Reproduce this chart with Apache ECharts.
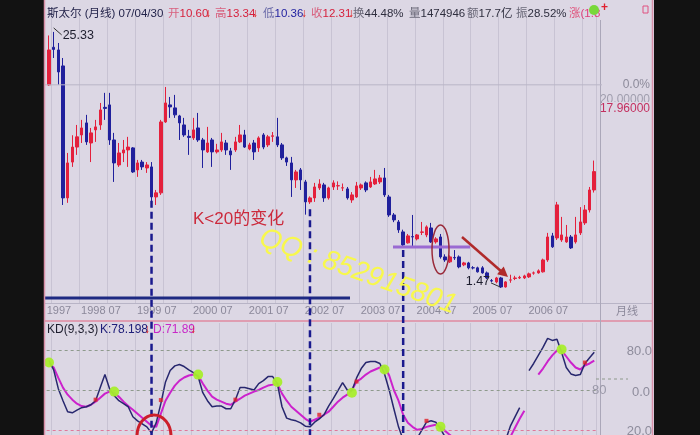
<!DOCTYPE html>
<html><head><meta charset="utf-8">
<script src="https://cdn.jsdelivr.net/npm/echarts/dist/echarts.min.js"></script>
<style>html,body{margin:0;padding:0;background:#121212;}#c{width:700px;height:435px;}</style>
</head><body><div id="c"></div>
<script>
// ---- data (monthly candles 1997-07 .. 2007-04) ----
const startYear = 1997, startMonth = 7, monthCount = 118;
const months = [];
for (let i = 0; i < monthCount; i++) {
  const t = startMonth - 1 + i;
  months.push((startYear + Math.floor(t / 12)) + '-' + String(t % 12 + 1).padStart(2, '0'));
}
const opens = [20.39,23.9,23.65,22.16,9.86,13.2,14.6,15.73,16.85,14.98,
16.2,16.66,18.3,18.53,15.26,12.93,14.05,14.33,14.52,12.47,
13.2,12.65,12.75,9.95,10.33,16.94,18.53,18.25,17.5,16.66,
15.6,15.45,16.38,15.26,14.15,15.26,14.15,14.33,14.98,14.24,
14.33,15.08,15.73,14.42,14.98,14.52,15.73,14.8,15.6,15.55,
14.8,13.59,13.12,11.54,12.47,11.35,9.49,9.86,10.79,11.07,
9.86,10.88,10.98,10.79,10.7,9.67,9.95,10.79,11.26,10.88,
11.16,11.35,11.72,9.95,8.27,7.62,6.69,5.67,6.25,6.04,
6.65,6.41,7.06,5.76,6.22,4.36,3.9,4.3,4.36,3.62,
3.8,3.35,3.34,3.34,2.87,2.15,2.03,2.4,1.56,2.2,
2.35,2.4,2.4,2.5,2.85,2.87,2.97,4.08,6.32,6.13,
5.94,5.76,6.22,5.76,6.6,7.53,8.74,10.60];
const closes = [23.65,23.7,21.6,9.86,13.12,14.6,15.55,16.38,15.08,15.92,
16.48,18.06,18.2,15.26,13.12,14.05,14.33,14.6,12.28,13.12,
12.75,12.93,9.95,10.33,16.94,18.71,18.34,17.6,16.85,15.73,
15.5,16.2,15.26,14.33,14.98,14.15,14.33,15.08,14.33,13.87,
15.08,15.73,14.6,14.8,14.15,15.45,14.6,15.55,15.65,14.8,
13.59,13.2,11.54,12.28,11.54,9.49,9.86,10.88,11.16,9.86,
10.79,11.26,11.0,10.8,9.86,10.14,10.98,11.07,10.6,11.35,
11.63,11.72,10.14,8.27,7.81,6.88,5.48,6.32,6.22,6.41,
6.69,7.16,5.76,6.04,4.36,4.08,4.36,4.27,3.43,3.8,
3.34,3.34,2.97,2.87,2.4,2.12,2.4,1.56,2.03,2.22,
2.4,2.45,2.59,2.78,2.87,3.06,4.08,6.22,5.3,9.21,
6.41,6.22,5.2,6.41,7.62,8.74,10.6,12.31];
const lows = [20.3,22.9,20.4,9.2,9.4,12.75,13.87,14.98,14.8,13.2,
15.08,16.2,17.13,14.8,11.35,12.75,13.2,12.75,12.19,11.82,
12.47,12.19,9.2,9.2,10.14,16.85,17.32,17.32,15.26,15.55,
13.87,15.26,15.08,12.65,14.05,12.75,14.0,14.15,13.87,12.47,
14.15,14.98,14.52,14.3,13.4,14.15,14.4,14.6,15.08,14.6,
13.4,12.84,9.95,10.79,10.6,8.3,9.3,9.49,10.6,9.49,
9.7,10.6,10.6,10.5,9.7,9.4,9.86,10.6,10.4,10.79,
11.07,11.16,9.95,8.09,7.6,6.6,5.3,5.6,5.3,5.9,
6.4,6.2,5.67,5.6,4.2,3.9,3.8,4.08,3.3,3.5,
3.2,3.2,2.9,2.8,2.3,2.0,1.9,1.47,1.5,1.95,
2.2,2.3,2.3,2.4,2.7,2.8,2.9,3.9,5.2,5.94,
5.76,5.67,5.1,5.6,6.4,7.34,8.5,10.36];
const highs = [25.0,25.33,24.3,22.9,14.05,15.7,16.66,17.13,17.6,16.38,
17.13,18.71,19.65,19.65,15.92,14.98,15.26,15.55,14.6,13.4,
13.4,13.2,13.2,10.6,17.13,20.2,19.27,19.46,17.6,17.32,
16.2,17.32,17.78,15.45,16.48,15.45,14.9,15.92,15.26,14.52,
15.55,16.66,16.2,15.0,15.26,15.6,15.9,15.73,16.0,17.32,
14.98,13.7,13.68,12.47,12.65,11.54,10.0,11.26,11.6,11.26,
10.9,11.5,11.4,11.2,10.88,10.4,11.35,11.2,11.4,11.82,
12.47,12.0,12.65,10.14,8.45,7.8,6.9,6.5,8.27,6.5,
7.62,7.3,7.53,6.2,6.5,4.6,4.5,5.0,4.5,3.9,
3.9,3.5,3.45,3.5,3.0,2.3,2.5,2.5,2.1,2.7,
2.6,2.6,2.7,2.9,3.0,3.2,4.2,6.6,6.6,9.49,
8.09,7.34,6.4,8.09,9.0,9.2,10.88,13.34];
const kValues = [72,65,51,42,33.8,33,35,36.8,37.5,39,
42,51.8,61.5,51,45.8,42,39.8,37.5,30,27,
24.8,22.5,18,25.5,39.8,56,64.5,68,69,67.5,
65,63,60,48,42,37.5,38,38,36,36,
42.8,51.8,51.8,51,50,54.8,57,60,60,54.8,
37.5,29,27.8,27,25.5,23,22.5,26,28.5,31.5,
38,43.5,49.5,55.5,50,49.5,59,66,70.5,71.3,
71.3,69.8,62,50,36,22.5,12.8,9,9,14,
20,26,27,26,21,15,11,12,8,9,
6,7,5,4,3,5,7,6,12.8,23,
30,36.8,null,64.5,69.8,75.8,81.8,88.5,87,87.8,
78,66.8,62,60.8,61.5,69.8,74,78.198];
const dValues = [70,66.8,59,51.8,46.5,42.8,39.8,38,37.5,39,
41.3,44.3,47.3,48.8,48,45,41.3,38,35.3,32.3,
29.3,26.3,23.3,22.5,32.3,42,48,53.3,57,59.3,
60.8,61.5,60.8,54.8,49.5,45,42.8,41.3,39.8,39,
41.3,43.5,45.8,47.3,48.8,50,51.8,53.3,54,54.8,
47.3,42,37.5,34.5,31.5,28.5,26.3,27.8,29.3,31.5,
33.8,37.5,41.3,44.3,46.5,50,56.3,58.5,61.5,63.8,
65.3,66.8,67.5,60.8,50,42,31.5,25.5,22.5,20.3,
21,22.5,23.3,24,22.5,19.5,16.5,14,12,11,
9,8,7,6,5,5,6,6,8,15,
21.8,28.5,34.5,null,null,61.5,66,71.3,75.8,79.5,
79.5,75,70.5,66.8,65.3,68.3,69.8,71.89];
const kdGreenDots = [[0,70.5],[14,48.8],[32,61.5],[49,56],[65,48],[72,65.3],[84,22.5],[110,80.3]];
const kdRedMarks = [[10,42.8],[24,42.5],[40,42.8],[58,31.5],[66,56.3],[81,27],[115,70.5]];
const kdLevels = [80, 50, 20];
const tickMonths = ['1997-10','1998-07','1999-07','2000-07','2001-07','2002-07','2003-07','2004-07','2005-07','2006-07'];
const tickTexts = ['1997','1998 07','1999 07','2000 07','2001 07','2002 07','2003 07','2004 07','2005 07','2006 07'];
const refPrice = 20.4;
const dashAnchors = [[22, 9.6], [56, 8.8], [76, 5.0]];

const FONT = '"Liberation Sans","Noto Sans CJK SC",sans-serif';
const chart = echarts.init(document.getElementById('c'));
const splitFn = (i, v) => /-(02|08)$/.test(v);
const gridCommon = {left: 46.67, width: 549.9, outerBoundsMode: 'none', containLabel: false};

chart.setOption({
  animation: false,
  backgroundColor: '#dcd7e4',
  grid: [
    Object.assign({top: 14, height: 289.7}, gridCommon),
    Object.assign({top: 323, height: 134}, gridCommon)
  ],
  xAxis: [
    {type: 'category', data: months, gridIndex: 0, boundaryGap: true,
     axisLine: {show: false}, axisTick: {show: false},
     axisLabel: {interval: (i, v) => tickMonths.includes(v),
       formatter: v => tickTexts[tickMonths.indexOf(v)] || '',
       color: '#8b889a', fontSize: 11, fontFamily: FONT, margin: 2, padding: [0, 8, 0, 0]},
     splitLine: {show: true, interval: splitFn, lineStyle: {color: '#c8c3d3', width: 1}}},
    {type: 'category', data: months, gridIndex: 1, boundaryGap: true,
     axisLine: {show: false}, axisTick: {show: false}, axisLabel: {show: false},
     splitLine: {show: true, interval: splitFn, lineStyle: {color: '#c8c3d3', width: 1}}}
  ],
  yAxis: [
    {type: 'value', gridIndex: 0, min: 0, max: 27, axisLine: {show: false}, axisTick: {show: false},
     axisLabel: {show: false}, splitLine: {show: false}},
    {type: 'value', gridIndex: 1, min: 0, max: 100, axisLine: {show: false}, axisTick: {show: false},
     axisLabel: {show: false}, splitLine: {show: false}}
  ],
  series: [
    {type: 'candlestick', xAxisIndex: 0, yAxisIndex: 0, barWidth: 3,
     data: months.map((m, i) => [opens[i], closes[i], lows[i], highs[i]]),
     itemStyle: {color: '#e4203c', color0: '#20209c', borderColor: '#e4203c', borderColor0: '#20209c', borderWidth: 1}},
    {type: 'line', name: 'K', xAxisIndex: 1, yAxisIndex: 1, data: kValues, showSymbol: false,
     lineStyle: {color: '#27276e', width: 1.5}, z: 3,
     markLine: {silent: true, symbol: ['none', 'none'], label: {show: false},
       data: kdLevels.map(v => ({yAxis: v, lineStyle: {color: v === 20 ? '#e0789a' : '#8e9a8c', type: [3, 3], width: 1}}))}},
    {type: 'line', name: 'D', xAxisIndex: 1, yAxisIndex: 1, data: dValues, showSymbol: false,
     lineStyle: {color: '#cc22cc', width: 2}, z: 2},
    {type: 'scatter', xAxisIndex: 1, yAxisIndex: 1, data: kdGreenDots, symbolSize: 10,
     itemStyle: {color: '#a8ee2c', opacity: 0.95}, z: 5},
    {type: 'scatter', xAxisIndex: 1, yAxisIndex: 1, data: kdRedMarks, symbol: 'rect', symbolSize: 4,
     itemStyle: {color: '#e02028'}, z: 5}
  ]
});

// ---- annotations placed through the chart's own scales ----
const p0 = (i, v) => chart.convertToPixel({gridIndex: 0}, [i, v]);
const txt = (x, y, text, fill, size, extra, z) => Object.assign({type: 'text', x: x, y: y, z: z || 200,
  style: Object.assign({text: text, fill: fill, font: size + 'px ' + FONT, align: 'left', verticalAlign: 'middle'}, extra || {})});
const line = (x1, y1, x2, y2, stroke, w, dash, z) => ({type: 'line', z: z || 150, shape: {x1, y1, x2, y2},
  style: {stroke: stroke, lineWidth: w, lineDash: dash || null}});

const els = [];
// frame
els.push({type: 'rect', z: 300, shape: {x: 0, y: 0, width: 44, height: 435}, style: {fill: '#121212'}});
els.push({type: 'rect', z: 300, shape: {x: 654, y: 0, width: 46, height: 435}, style: {fill: '#121212'}});
els.push(line(44.5, 0, 44.5, 435, '#d890a8', 1.5, null, 301));
els.push(line(652.5, 0, 652.5, 435, '#d890a8', 1.5, null, 301));
els.push(line(44, 303.5, 652, 303.5, '#b8b4c6', 1));
els.push(line(44, 321, 652, 321, '#e08aa0', 1.5));
els.push(line(600.5, 20, 600.5, 435, '#aba7b9', 1));
const yRef = p0(0, refPrice)[1];
els.push(line(44, yRef, 602, yRef, '#b9b5c7', 1));

// header
const H = 14, HS = 11.5;
[[47,'斯太尔 (月线) 07/04/30','#23234a'],
 [168,'开','#d8607e'],[179.5,'10.60','#d6203c'],[205,'↓','#e01818'],
 [215,'高','#d8607e'],[226.5,'13.34','#d6203c'],[252,'↓','#e01818'],
 [263,'低','#6a6aa8'],[274.5,'10.36','#2222a0'],[301,'↓','#e01818'],
 [311,'收','#d8607e'],[322.5,'12.31','#d6203c'],[348,'↓','#e01818'],
 [353,'换','#6a6878'],[364.5,'44.48%','#2e2e3e'],
 [409,'量','#6a6878'],[420.5,'1474946','#2e2e3e'],
 [467,'额','#6a6878'],[478.5,'17.7亿','#2e2e3e'],
 [516,'振','#6a6878'],[527.5,'28.52%','#2e2e3e'],
 [569,'涨','#e0507a'],[580.5,'(1.8','#e0407a']
].forEach(h => els.push(txt(h[0], H, h[1], h[2], h[1] === '↓' ? 10 : HS, h[1] === '↓' ? {fontWeight: 'bold'} : null)));
els.push({type: 'circle', z: 210, shape: {cx: 594, cy: 10, r: 5}, style: {fill: '#78d83a'}});
els.push(txt(601, 8, '+', '#e02030', 8, {fontWeight: 'bold'}));
els.push({type: 'rect', z: 210, shape: {x: 643, y: 6, width: 5, height: 7}, style: {fill: 'none', stroke: '#e05080', lineWidth: 1}});

// right price labels
els.push(txt(650, 85, '0.0%', '#8c8a9a', 12, {align: 'right'}));
els.push(txt(650, 100, '20.00000', '#a09eae', 12, {align: 'right'}));
els.push({type: 'rect', z: 201, shape: {x: 602, y: 102, width: 49, height: 13}, style: {fill: '#dcd7e4'}});
els.push(txt(650, 108.5, '17.96000', '#c43060', 12, {align: 'right'}, 202));
els.push(txt(616, 312, '月线', '#8b889a', 11));

// KD header & right labels
els.push(txt(47, 330, 'KD(9,3,3)', '#1e1e2e', 12));
els.push(txt(100, 330, 'K:78.198', '#20207a', 12));
els.push(txt(144, 330, '↓', '#e01818', 10, {fontWeight: 'bold'}));
els.push(txt(153, 330, 'D:71.89', '#c828c8', 12));
els.push(txt(190, 330, '↓', '#e01818', 10, {fontWeight: 'bold'}));
els.push(txt(652, 351, '80.0', '#8e8c9c', 13, {align: 'right'}));
els.push(txt(650, 392, '0.0', '#8e8c9c', 13, {align: 'right'}));
els.push(txt(652, 431, '20.0', '#8e8c9c', 13, {align: 'right'}));
els.push(txt(592, 390, '80', '#9a98a8', 13));
els.push(line(596, 379, 628, 379, '#8e9a8c', 1, [3, 3]));

// max / min labels
let maxI = highs.indexOf(Math.max(...highs)), minI = lows.indexOf(Math.min(...lows));
const pm = p0(maxI, highs[maxI]);
els.push(line(pm[0], pm[1] - 4, pm[0] + 8, pm[1] + 3, '#333', 1));
els.push(txt(pm[0] + 9, pm[1] + 4, String(highs[maxI].toFixed(2)), '#1e1e2e', 12.5));
const pn = p0(minI, lows[minI]);
els.push(line(pn[0] - 1, pn[1] - 1, pn[0] - 10, pn[1] - 5, '#333', 1));
els.push(txt(pn[0] - 11, pn[1] - 6, String(lows[minI].toFixed(2)), '#1e1e2e', 12.5, {align: 'right'}));

// hand-drawn annotations
dashAnchors.forEach(a => { const p = p0(a[0], a[1]); els.push(line(p[0], p[1], p[0], 435, '#1a1a8e', 2.5, [7, 4], 160)); });
els.push(line(44, 298, 350, 298, '#1e2a82', 3));
els.push(line(393, 247, 470, 247, '#9a6ad2', 3));
els.push({type: 'ellipse', z: 160, shape: {cx: 440.5, cy: 249.5, rx: 8.5, ry: 24.5}, style: {fill: 'none', stroke: '#9a2a3a', lineWidth: 1.5}});
els.push(line(462, 237, 502, 272, '#b02a2a', 2.5));
els.push({type: 'polygon', z: 160, shape: {points: [[508, 277], [497.1, 274.2], [503.7, 266.6]]}, style: {fill: '#b02a2a'}});
els.push(txt(193, 219, 'K<20的变化', '#cc2a3c', 17));
els.push({type: 'ellipse', z: 160, shape: {cx: 154, cy: 436, rx: 17, ry: 21}, style: {fill: 'none', stroke: '#cc1f2a', lineWidth: 3}});
els.push({type: 'text', x: 265, y: 224, rotation: -0.34, z: 250,
  style: {text: 'QQ : 852915801', fill: '#f8f84c', font: 'italic 28px ' + FONT, align: 'left', verticalAlign: 'top'}});

chart.setOption({graphic: els});
</script></body></html>
